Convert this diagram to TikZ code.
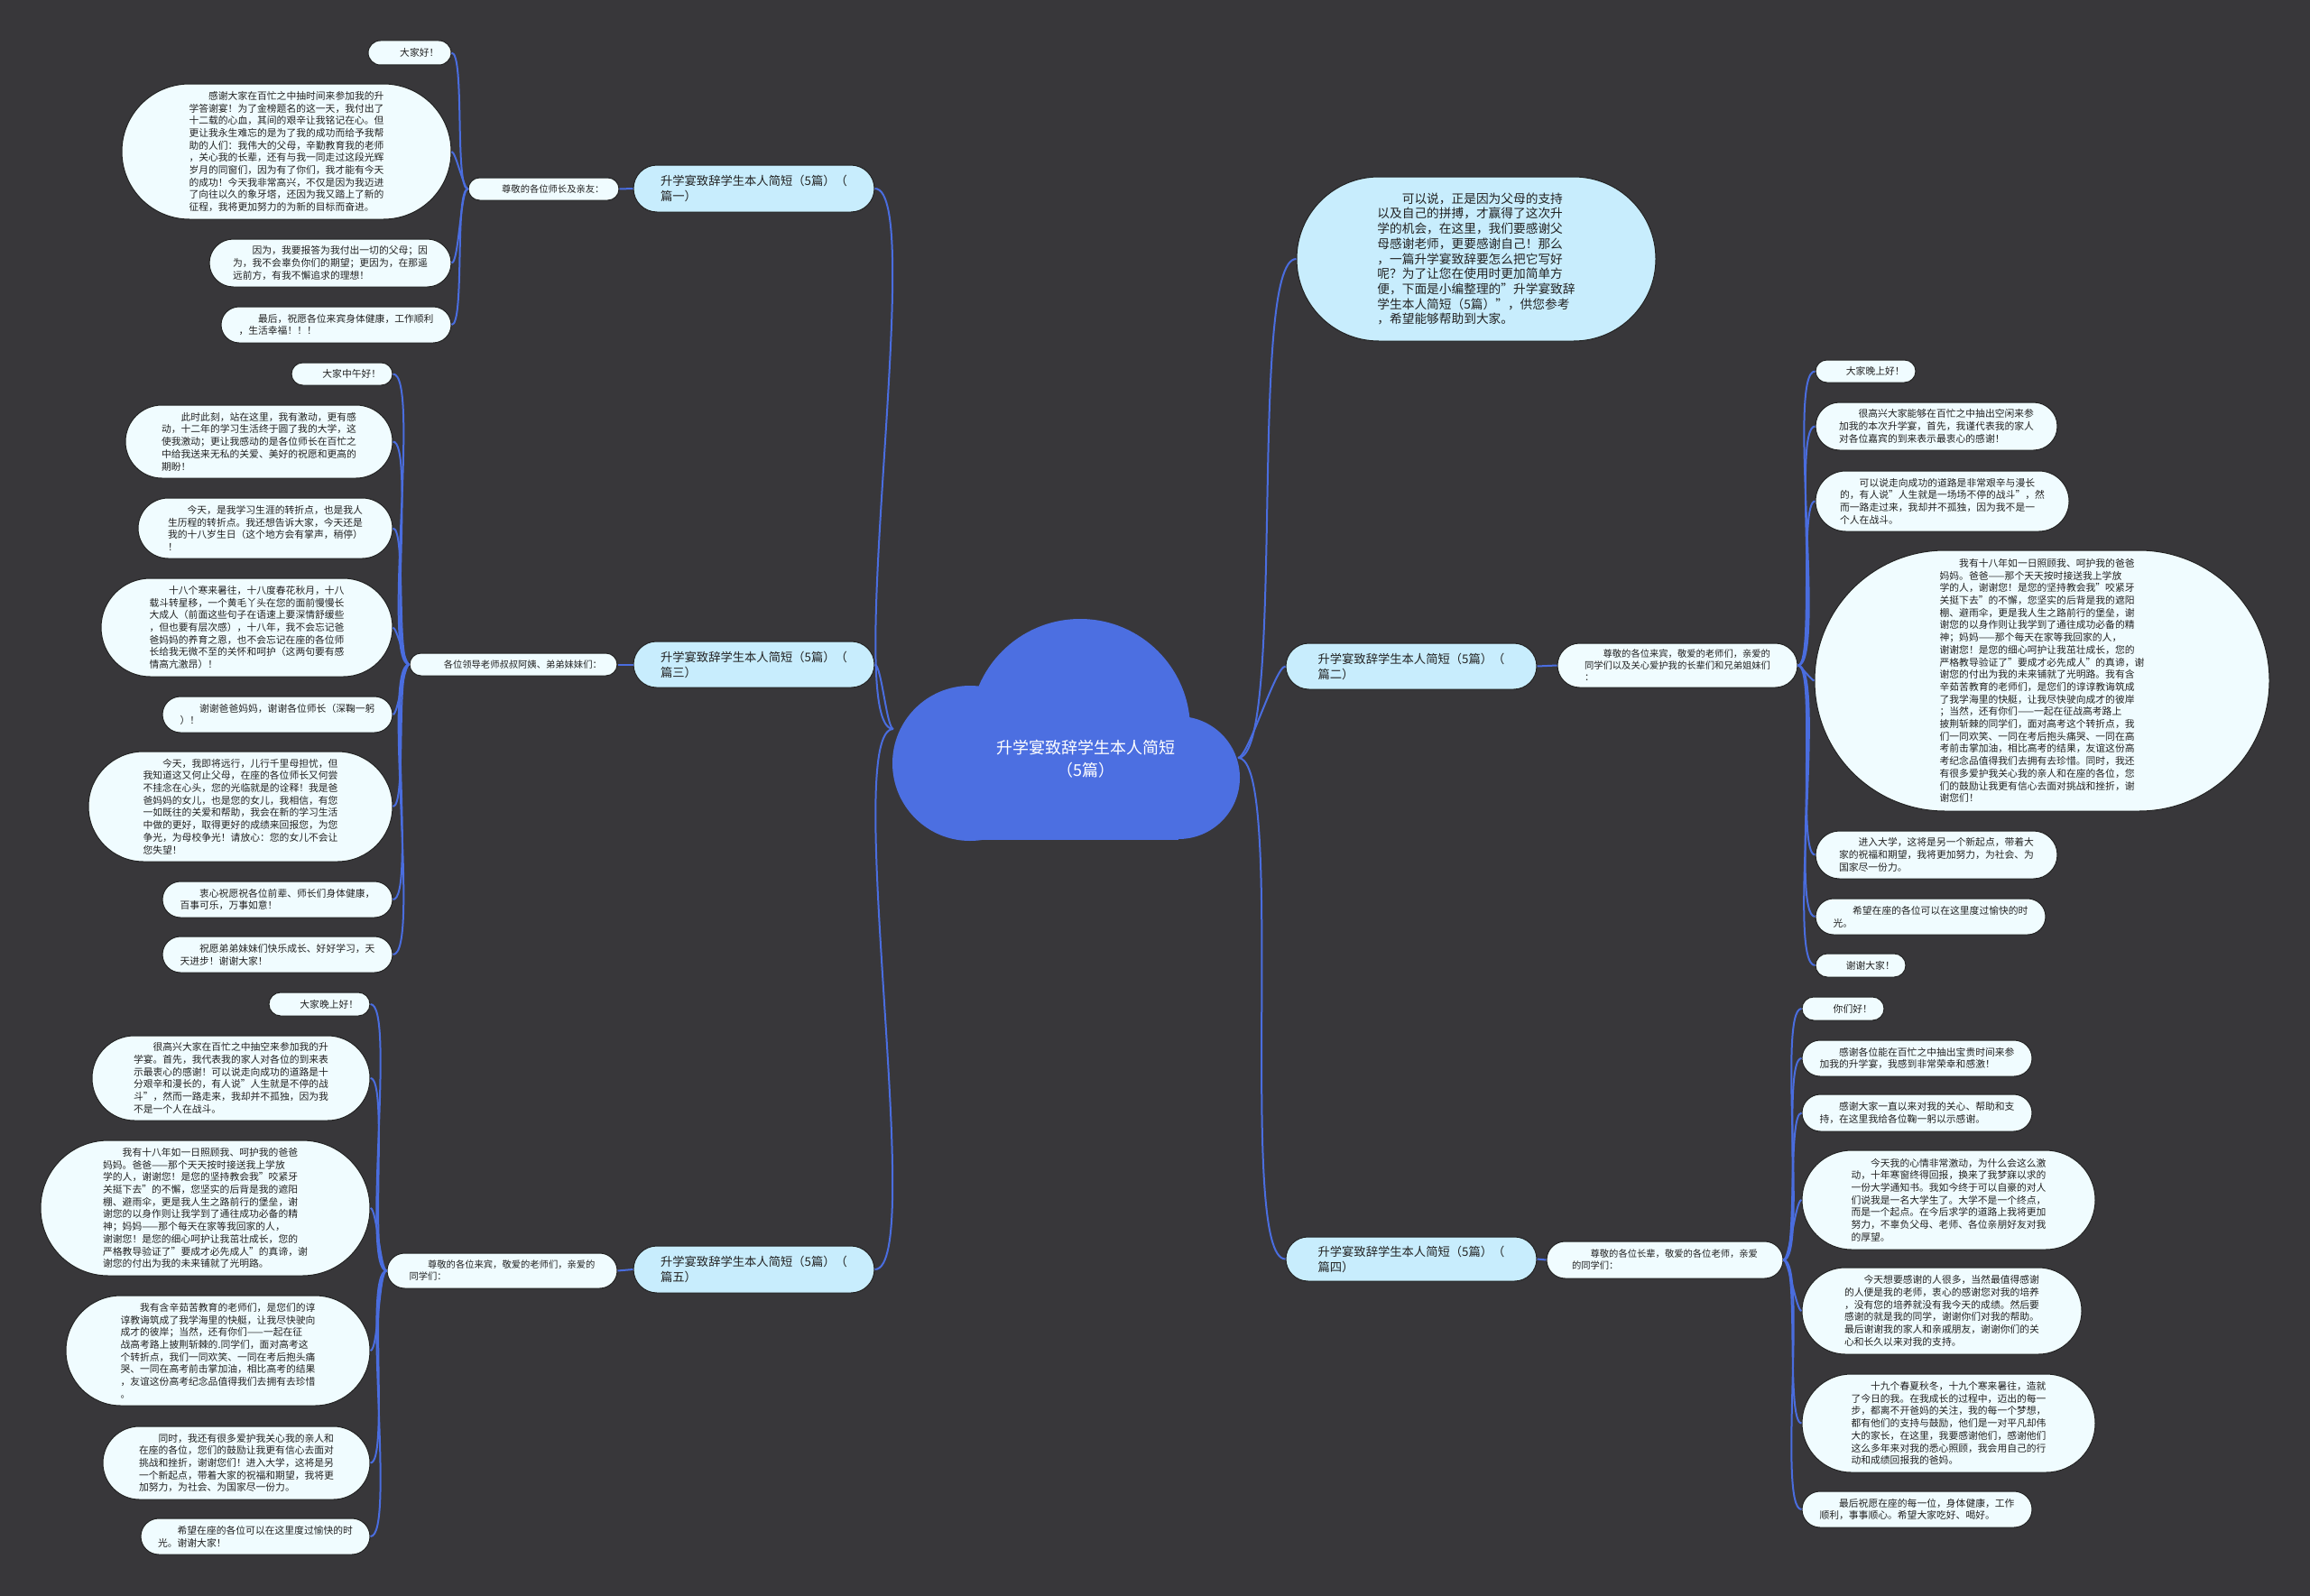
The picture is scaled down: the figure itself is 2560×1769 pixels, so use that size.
\documentclass[tikz,border=0pt]{standalone}
\usepackage{fontspec}
\setmainfont{Noto Sans CJK SC}
\definecolor{bg}{HTML}{38373A}
\definecolor{leaffill}{HTML}{F0FCFF}
\definecolor{branchfill}{HTML}{C8EDFD}
\definecolor{linkc}{HTML}{4A6DDF}
\definecolor{cloudc}{HTML}{4C6FE1}
\definecolor{ink}{HTML}{222222}
\begin{document}
\begin{tikzpicture}[x=1pt,y=-1pt,
  pill/.style 2 args={rectangle, minimum width=#1pt, minimum height=#2pt, rounded corners=#2*0.5pt, inner sep=0pt},
  leaf/.style={draw=ink, line width=1pt, fill=leaffill, text=ink, font=\fontsize{10.8}{13.7}\selectfont, align=left},
  subb/.style={leaf, font=\fontsize{10.3}{13}\selectfont},
  branch/.style={draw=ink, line width=1pt, fill=branchfill, text=ink, font=\fontsize{13.3}{17}\selectfont, align=left},
  intro/.style={draw=ink, line width=1pt, fill=branchfill, text=ink, font=\fontsize{13.7}{16.7}\selectfont, align=left},
  link/.style={draw=linkc, line width=2pt},
  lcurve/.style={link, out=180, in=0, looseness=0.25},
  rcurve/.style={link, out=0, in=180, looseness=0.25}]
\fill[bg] (0,0) rectangle (2560,1769);
\useasboundingbox (0,0) rectangle (2560,1769);

% ---------- central cloud ----------
\fill[cloudc] (1197,808) circle (122);
\fill[cloudc] (1075,846) circle (86);
\fill[cloudc] (1306,862) circle (68);
\fill[cloudc] (1075,846) rectangle (1306,931);
\node[text=white, font=\fontsize{18}{24.5}\selectfont, align=center] (center) at (1203,841) {升学宴致辞学生本人简短\\（5篇）};
\coordinate (cL) at (990,808);
\coordinate (cR) at (1372,840);

% ---------- branches ----------
\node[branch, pill={267}{52}] (B1) at (835.5,209) {升学宴致辞学生本人简短（5篇）（\\篇一）};
\node[branch, pill={267}{51}] (B3) at (835.5,736.5) {升学宴致辞学生本人简短（5篇）（\\篇三）};
\node[branch, pill={267}{52}] (B5) at (835.5,1407) {升学宴致辞学生本人简短（5篇）（\\篇五）};
\node[branch, pill={278}{51}] (B2) at (1564,738.5) {升学宴致辞学生本人简短（5篇）（\\篇二）};
\node[branch, pill={278}{49}] (B4) at (1564,1395.5) {升学宴致辞学生本人简短（5篇）（\\篇四）};

\node[intro, pill={398}{182}] (intro) at (1636,287) {　　可以说，正是因为父母的支持\\以及自己的拼搏，才赢得了这次升\\学的机会，在这里，我们要感谢父\\母感谢老师，更要感谢自己！那么\\，一篇升学宴致辞要怎么把它写好\\呢？为了让您在使用时更加简单方\\便，下面是小编整理的"升学宴致辞\\学生本人简短（5篇）"，供您参考\\，希望能够帮助到大家。};

% ---------- sub branches ----------
\node[subb, pill={167}{25}] (S1) at (602.5,209.5) {　　尊敬的各位师长及亲友：};
\node[subb, pill={230}{25}] (S3) at (569,736.5) {　　各位领导老师叔叔阿姨、弟弟妹妹们：};
\node[subb, pill={255}{39}] (S5) at (556.5,1408.5) {　　尊敬的各位来宾，敬爱的老师们，亲爱的\\同学们：};
\node[subb, pill={266}{49}] (S2) at (1859,737.5) {　　尊敬的各位来宾，敬爱的老师们，亲爱的\\同学们以及关心爱护我的长辈们和兄弟姐妹们\\：};
\node[subb, pill={262}{41}] (S4) at (1845,1396.5) {　　尊敬的各位长辈，敬爱的各位老师，亲爱\\的同学们：};

% ---------- leaves: 篇一 ----------
\node[leaf, pill={92}{27}] (L1a) at (454,58.5) {　　大家好！};
\node[leaf, pill={365}{150}] (L1b) at (317.5,168) {　　感谢大家在百忙之中抽时间来参加我的升\\学答谢宴！为了金榜题名的这一天，我付出了\\十二载的心血，其间的艰辛让我铭记在心。但\\更让我永生难忘的是为了我的成功而给予我帮\\助的人们：我伟大的父母，辛勤教育我的老师\\，关心我的长辈，还有与我一同走过这段光辉\\岁月的同窗们，因为有了你们，我才能有今天\\的成功！今天我非常高兴，不仅是因为我迈进\\了向往以久的象牙塔，还因为我又踏上了新的\\征程，我将更加努力的为新的目标而奋进。};
\node[leaf, pill={268}{53}] (L1c) at (366,291.5) {　　因为，我要报答为我付出一切的父母；因\\为，我不会辜负你们的期望；更因为，在那遥\\远前方，有我不懈追求的理想！};
\node[leaf, pill={255}{40}] (L1d) at (372.5,360) {　　最后，祝愿各位来宾身体健康，工作顺利\\，生活幸福！！！};

% ---------- leaves: 篇三 ----------
\node[leaf, pill={112}{25}] (L3a) at (379,414.5) {　　大家中午好！};
\node[leaf, pill={296}{81}] (L3b) at (287,489.5) {　　此时此刻，站在这里，我有激动，更有感\\动，十二年的学习生活终于圆了我的大学，这\\使我激动；更让我感动的是各位师长在百忙之\\中给我送来无私的关爱、美好的祝愿和更高的\\期盼！};
\node[leaf, pill={282}{67}] (L3c) at (294,585.5) {　　今天，是我学习生涯的转折点，也是我人\\生历程的转折点。我还想告诉大家，今天还是\\我的十八岁生日（这个地方会有掌声，稍停）\\！};
\node[leaf, pill={323}{109}] (L3d) at (273.5,695.5) {　　十八个寒来暑往，十八度春花秋月，十八\\载斗转星移，一个黄毛丫头在您的面前慢慢长\\大成人（前面这些句子在语速上要深情舒缓些\\，但也要有层次感），十八年，我不会忘记爸\\爸妈妈的养育之恩，也不会忘记在座的各位师\\长给我无微不至的关怀和呵护（这两句要有感\\情高亢激昂）！};
\node[leaf, pill={255}{40}] (L3e) at (307.5,792) {　　谢谢爸爸妈妈，谢谢各位师长（深鞠一躬\\）！};
\node[leaf, pill={337}{122}] (L3f) at (266.5,894) {　　今天，我即将远行，儿行千里母担忧，但\\我知道这又何止父母，在座的各位师长又何尝\\不挂念在心头，您的光临就是的诠释！我是爸\\爸妈妈的女儿，也是您的女儿，我相信，有您\\一如既往的关爱和帮助，我会在新的学习生活\\中做的更好，取得更好的成绩来回报您，为您\\争光，为母校争光！请放心：您的女儿不会让\\您失望！};
\node[leaf, pill={255}{40}] (L3g) at (307.5,997) {　　衷心祝愿祝各位前辈、师长们身体健康，\\百事可乐，万事如意！};
\node[leaf, pill={255}{40}] (L3h) at (307.5,1058) {　　祝愿弟弟妹妹们快乐成长、好好学习，天\\天进步！谢谢大家！};

% ---------- leaves: 篇五 ----------
\node[leaf, pill={112}{26}] (L5a) at (354,1113) {　　大家晚上好！};
\node[leaf, pill={308}{94}] (L5b) at (256,1195) {　　很高兴大家在百忙之中抽空来参加我的升\\学宴。首先，我代表我的家人对各位的到来表\\示最衷心的感谢！可以说走向成功的道路是十\\分艰辛和漫长的，有人说"人生就是不停的战\\斗"，然而一路走来，我却并不孤独，因为我\\不是一个人在战斗。};
\node[leaf, pill={365}{150}] (L5c) at (227.5,1339) {　　我有十八年如一日照顾我、呵护我的爸爸\\妈妈。爸爸——那个天天按时接送我上学放\\学的人，谢谢您！是您的坚持教会我"咬紧牙\\关挺下去"的不懈，您坚实的后背是我的遮阳\\棚、避雨伞，更是我人生之路前行的堡垒，谢\\谢您的以身作则让我学到了通往成功必备的精\\神；妈妈——那个每天在家等我回家的人，\\谢谢您！是您的细心呵护让我茁壮成长，您的\\严格教导验证了"要成才必先成人"的真谛，谢\\谢您的付出为我的未来铺就了光明路。};
\node[leaf, pill={337}{122}] (L5d) at (241.5,1497) {　　我有含辛茹苦教育的老师们，是您们的谆\\谆教诲筑成了我学海里的快艇，让我尽快驶向\\成才的彼岸；当然，还有你们——一起在征\\战高考路上披荆斩棘的.同学们，面对高考这\\个转折点，我们一同欢笑、一同在考后抱头痛\\哭、一同在高考前击掌加油，相比高考的结果\\，友谊这份高考纪念品值得我们去拥有去珍惜\\。};
\node[leaf, pill={296}{81}] (L5e) at (262,1621.5) {　　同时，我还有很多爱护我关心我的亲人和\\在座的各位，您们的鼓励让我更有信心去面对\\挑战和挫折，谢谢您们！进入大学，这将是另\\一个新起点，带着大家的祝福和期望，我将更\\加努力，为社会、为国家尽一份力。};
\node[leaf, pill={254}{40}] (L5f) at (283,1703) {　　希望在座的各位可以在这里度过愉快的时\\光。谢谢大家！};

% ---------- leaves: 篇二 ----------
\node[leaf, pill={111}{25}] (R2a) at (2067.5,411.5) {　　大家晚上好！};
\node[leaf, pill={268}{53}] (R2b) at (2146,472.5) {　　很高兴大家能够在百忙之中抽出空闲来参\\加我的本次升学宴，首先，我谨代表我的家人\\对各位嘉宾的到来表示最衷心的感谢！};
\node[leaf, pill={281}{67}] (R2c) at (2152.5,555.5) {　　可以说走向成功的道路是非常艰辛与漫长\\的，有人说"人生就是一场场不停的战斗"，然\\而一路走过来，我却并不孤独，因为我不是一\\个人在战斗。};
\node[leaf, pill={504}{289}] (R2d) at (2263,754.5) {　　我有十八年如一日照顾我、呵护我的爸爸\\妈妈。爸爸——那个天天按时接送我上学放\\学的人，谢谢您！是您的坚持教会我"咬紧牙\\关挺下去"的不懈，您坚实的后背是我的遮阳\\棚、避雨伞，更是我人生之路前行的堡垒，谢\\谢您的以身作则让我学到了通往成功必备的精\\神；妈妈——那个每天在家等我回家的人，\\谢谢您！是您的细心呵护让我茁壮成长，您的\\严格教导验证了"要成才必先成人"的真谛，谢\\谢您的付出为我的未来铺就了光明路。我有含\\辛茹苦教育的老师们，是您们的谆谆教诲筑成\\了我学海里的快艇，让我尽快驶向成才的彼岸\\；当然，还有你们——一起在征战高考路上\\披荆斩棘的同学们，面对高考这个转折点，我\\们一同欢笑、一同在考后抱头痛哭、一同在高\\考前击掌加油，相比高考的结果，友谊这份高\\考纪念品值得我们去拥有去珍惜。同时，我还\\有很多爱护我关心我的亲人和在座的各位，您\\们的鼓励让我更有信心去面对挑战和挫折，谢\\谢您们！};
\node[leaf, pill={268}{53}] (R2e) at (2146,947.5) {　　进入大学，这将是另一个新起点，带着大\\家的祝福和期望，我将更加努力，为社会、为\\国家尽一份力。};
\node[leaf, pill={255}{40}] (R2f) at (2139.5,1016) {　　希望在座的各位可以在这里度过愉快的时\\光。};
\node[leaf, pill={100}{26}] (R2g) at (2062,1070) {　　谢谢大家！};

% ---------- leaves: 篇四 ----------
\node[leaf, pill={91}{26}] (R4a) at (2042.5,1118) {　　你们好！};
\node[leaf, pill={255}{40}] (R4b) at (2124.5,1173) {　　感谢各位能在百忙之中抽出宝贵时间来参\\加我的升学宴，我感到非常荣幸和感激！};
\node[leaf, pill={255}{41}] (R4c) at (2124.5,1233.5) {　　感谢大家一直以来对我的关心、帮助和支\\持，在这里我给各位鞠一躬以示感谢。};
\node[leaf, pill={325}{110}] (R4d) at (2159.5,1330) {　　今天我的心情非常激动，为什么会这么激\\动，十年寒窗终得回报，换来了我梦寐以求的\\一份大学通知书。我如今终于可以自豪的对人\\们说我是一名大学生了。大学不是一个终点，\\而是一个起点。在今后求学的道路上我将更加\\努力，不辜负父母、老师、各位亲朋好友对我\\的厚望。};
\node[leaf, pill={310}{96}] (R4e) at (2152,1453) {　　今天想要感谢的人很多，当然最值得感谢\\的人便是我的老师，衷心的感谢您对我的培养\\，没有您的培养就没有我今天的成绩。然后要\\感谢的就是我的同学，谢谢你们对我的帮助。\\最后谢谢我的家人和亲戚朋友，谢谢你们的关\\心和长久以来对我的支持。};
\node[leaf, pill={325}{109}] (R4f) at (2159.5,1577.5) {　　十九个春夏秋冬，十九个寒来暑往，造就\\了今日的我。在我成长的过程中，迈出的每一\\步，都离不开爸妈的关注，我的每一个梦想，\\都有他们的支持与鼓励，他们是一对平凡却伟\\大的家长，在这里，我要感谢他们，感谢他们\\这么多年来对我的悉心照顾，我会用自己的行\\动和成绩回报我的爸妈。};
\node[leaf, pill={255}{40}] (R4g) at (2124.5,1673) {　　最后祝愿在座的每一位，身体健康，工作\\顺利，事事顺心。希望大家吃好、喝好。};

% ---------- connectors ----------
\foreach \b in {B1,B3,B5} \draw[lcurve] (cL) to (\b.east);
\foreach \b in {intro,B2,B4} \draw[rcurve] (cR) to (\b.west);
\draw[link] (B1.west) -- (S1.east);
\draw[link] (B3.west) -- (S3.east);
\draw[link] (B5.west) -- (S5.east);
\draw[link] (B2.east) -- (S2.west);
\draw[link] (B4.east) -- (S4.west);
\foreach \l in {L1a,L1b,L1c,L1d} \draw[lcurve] (S1.west) to (\l.east);
\foreach \l in {L3a,L3b,L3c,L3d,L3e,L3f,L3g,L3h} \draw[lcurve] (S3.west) to (\l.east);
\foreach \l in {L5a,L5b,L5c,L5d,L5e,L5f} \draw[lcurve] (S5.west) to (\l.east);
\foreach \l in {R2a,R2b,R2c,R2d,R2e,R2f,R2g} \draw[rcurve] (S2.east) to (\l.west);
\foreach \l in {R4a,R4b,R4c,R4d,R4e,R4f,R4g} \draw[rcurve] (S4.east) to (\l.west);
\end{tikzpicture}
\end{document}
